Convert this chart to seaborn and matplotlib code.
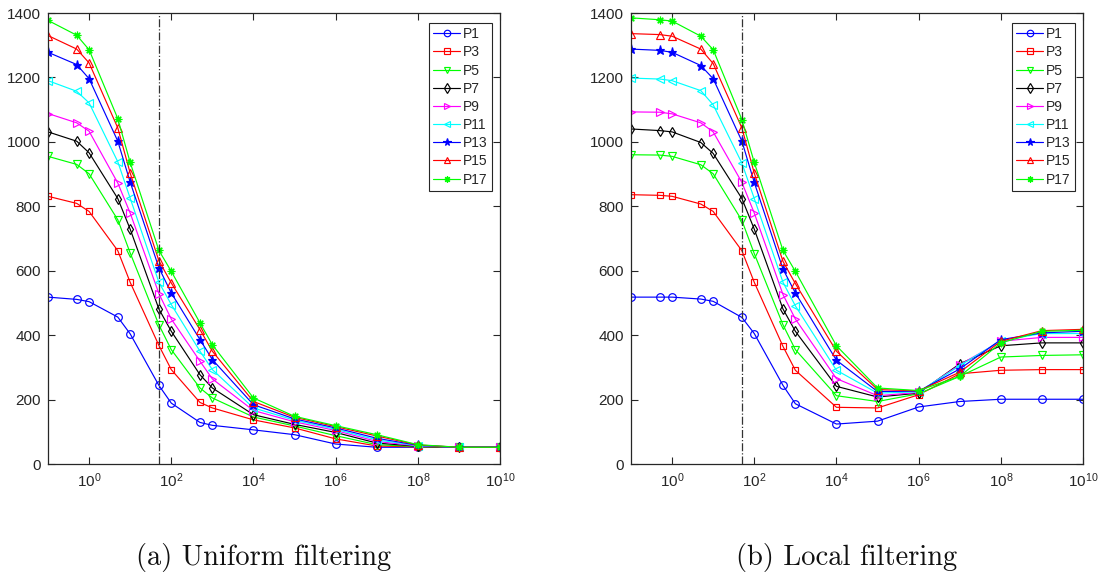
import numpy as np
import pandas as pd
import seaborn as sns
import matplotlib
matplotlib.use("Agg")
import matplotlib.pyplot as plt

# ---------------- data ----------------
x_vals = [0.1, 0.5, 1, 5, 10, 50, 100, 500, 1000, 1e4, 1e5, 1e6, 1e7, 1e8, 1e9, 1e10]
series_names = ["P1", "P3", "P5", "P7", "P9", "P11", "P13", "P15", "P17"]

# (a) Uniform filtering
uni_P1 = [518, 511, 504, 456, 404, 244, 189, 129, 120, 106, 91, 62, 52, 52, 52, 52]
uni_P3 = [831, 809, 784, 662, 564, 368, 293, 191, 174, 137, 112, 78, 56, 53, 52, 52]
uni_P5 = [955, 930, 901, 758, 655, 432, 355, 236, 205, 146, 118, 88, 60, 54, 52, 52]
uni_P7 = [1031, 1002, 966, 824, 729, 481, 412, 277, 236, 153, 123, 98, 65, 55, 52, 52]
uni_P9 = [1088, 1059, 1033, 872, 779, 529, 450, 319, 264, 166, 131, 104, 70, 56, 52, 52]
uni_P11 = [1190, 1157, 1121, 938, 825, 564, 495, 350, 293, 174, 136, 108, 75, 57, 52, 52]
uni_P13 = [1278, 1240, 1196, 1002, 875, 609, 531, 386, 324, 184, 140, 112, 80, 58, 52, 52]
uni_P15 = [1330, 1288, 1245, 1043, 903, 631, 562, 417, 350, 194, 145, 116, 87, 59, 52, 52]
uni_P17 = [1377, 1331, 1286, 1072, 936, 663, 598, 438, 370, 205, 148, 119, 91, 60, 52, 52]

# (b) Local filtering
loc_P1 = [518, 518, 518, 512, 505, 455, 405, 244, 187, 124, 133, 177, 194, 201, 201, 201]
loc_P3 = [836, 834, 831, 807, 784, 662, 564, 365, 291, 176, 174, 215, 280, 291, 293, 293]
loc_P5 = [960, 959, 955, 929, 901, 756, 653, 432, 355, 212, 194, 218, 272, 332, 337, 339]
loc_P7 = [1040, 1035, 1031, 998, 964, 824, 729, 481, 412, 241, 208, 220, 311, 367, 376, 376]
loc_P9 = [1093, 1092, 1087, 1059, 1031, 874, 779, 526, 450, 265, 212, 222, 308, 381, 393, 393]
loc_P11 = [1198, 1195, 1190, 1159, 1115, 934, 824, 564, 491, 291, 220, 224, 305, 383, 405, 405]
loc_P13 = [1288, 1284, 1278, 1237, 1196, 1002, 874, 605, 531, 322, 225, 226, 295, 386, 407, 412]
loc_P15 = [1336, 1333, 1328, 1288, 1243, 1043, 903, 629, 560, 350, 231, 227, 285, 381, 414, 418]
loc_P17 = [1385, 1379, 1375, 1328, 1286, 1069, 936, 663, 598, 367, 236, 228, 272, 376, 412, 415]

uniform = [uni_P1, uni_P3, uni_P5, uni_P7, uni_P9, uni_P11, uni_P13, uni_P15, uni_P17]
local = [loc_P1, loc_P3, loc_P5, loc_P7, loc_P9, loc_P11, loc_P13, loc_P15, loc_P17]
marker_line_x = 50
captions = ["(a) Uniform filtering", "(b) Local filtering"]

# ---------------- style ----------------
colors = ["#0000ff", "#ff0000", "#00ff00", "#000000", "#ff00ff", "#00ffff",
          "#0000ff", "#ff0000", "#00ff00"]
markers = ["o", "s", "v", "d", ">", "<", "*", "^", (8, 2, 0)]
msizes = [5.5, 4.5, 5.5, 5.5, 5.5, 5.5, 6.5, 5.5, 5.5]
filled = [False, False, False, False, False, False, True, False, False]

sns.set_theme(style="ticks")
plt.rcParams["font.family"] = ["Liberation Sans", "DejaVu Sans"]
plt.rcParams["mathtext.default"] = "regular"

fig = plt.figure(figsize=(11.01, 5.75), dpi=100)
W, H = 1101, 575
ax_w, ax_h = 452, 451
top = 13
axes = [fig.add_axes([48 / W, 1 - (top + ax_h) / H, ax_w / W, ax_h / H]),
        fig.add_axes([631 / W, 1 - (top + ax_h) / H, ax_w / W, ax_h / H])]

for ax, dataset, cap in zip(axes, [uniform, local], captions):
    for name, vals, c, m, ms, f in zip(series_names, dataset, colors, markers, msizes, filled):
        df = pd.DataFrame({"x": x_vals, "y": vals})
        sns.lineplot(data=df, x="x", y="y", ax=ax, color=c, marker=m,
                     markersize=ms, markeredgewidth=0.85, linewidth=0.85,
                     markerfacecolor=(c if f else "none"), markeredgecolor=c,
                     label=name, estimator=None, sort=False)
    ax.axvline(marker_line_x, color="#333333", linestyle="-.", linewidth=0.9)
    ax.set_xscale("log")
    ax.set_xlim(0.1, 1e10)
    ax.set_ylim(0, 1400)
    ax.set_yticks(np.arange(0, 1401, 200))
    ax.set_xticks([10.0 ** k for k in range(0, 11, 2)])
    ax.xaxis.set_minor_locator(matplotlib.ticker.NullLocator())
    ax.set_xlabel("")
    ax.set_ylabel("")
    ax.tick_params(direction="in", length=5, width=0.8, top=True, right=True,
                   labelsize=11, colors="#262626", pad=5)
    for sp in ax.spines.values():
        sp.set_visible(True)
        sp.set_color("#262626")
        sp.set_linewidth(0.9)
    leg = ax.legend(loc="upper right", bbox_to_anchor=(1 - 8 / ax_w, 1 - 10 / ax_h),
                    fontsize=10, frameon=True, fancybox=False, framealpha=1,
                    edgecolor="#262626", handlelength=1.9, handletextpad=0.25,
                    borderpad=0.3, labelspacing=0.3, borderaxespad=0,
                    markerscale=0.85)
    leg.get_frame().set_linewidth(0.8)
    pos = ax.get_position()
    fig.text(pos.x0 + pos.width / 2 - 10 / W, 1 - 557 / H, cap, ha="center",
             va="center", fontsize=20.5, fontfamily="cmr10", color="#111111")

fig.savefig("out.png", dpi=100)
